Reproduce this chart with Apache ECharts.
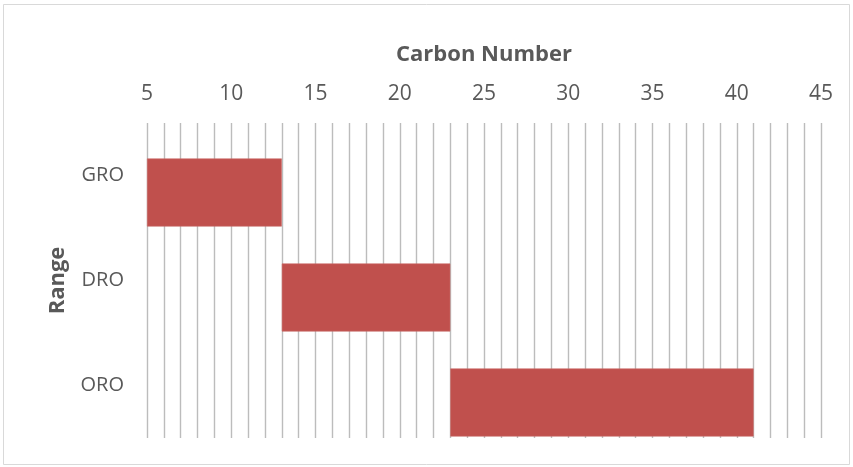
<!DOCTYPE html>
<html>
<head>
<meta charset="utf-8">
<script src="https://cdn.jsdelivr.net/npm/echarts@6/dist/echarts.min.js"></script>
<style>
  html, body { margin: 0; padding: 0; background: #fff; }
  #chart { width: 853px; height: 467px; }
</style>
</head>
<body>
<div id="chart"></div>
<script>
// Carbon-number ranges for each fraction
const ranges = ['GRO', 'DRO', 'ORO'];
const rangeStart = [5, 13, 23];
const rangeEnd = [13, 23, 41];

// Tick settings for the carbon-number axis
const axisMin = 5;
const axisMax = 45;
const axisStep = 5;

const spans = rangeEnd.map((e, i) => e - rangeStart[i]);

const textColor = '#595959';
const gridColor = '#bcbcbc';
const font = '"Open Sans", "Liberation Sans", sans-serif';

const chart = echarts.init(document.getElementById('chart'), null, { renderer: 'canvas' });

chart.setOption({
  animation: false,
  backgroundColor: '#ffffff',
  graphic: [{
    type: 'rect',
    shape: { x: 3.5, y: 4.5, width: 846, height: 460 },
    style: { fill: 'none', stroke: '#d9d9d9', lineWidth: 1 },
    silent: true
  }],
  grid: { left: 147, right: 32, top: 123, bottom: 29 },
  xAxis: {
    type: 'value',
    position: 'top',
    min: axisMin,
    max: axisMax,
    interval: axisStep,
    name: 'Carbon Number',
    nameLocation: 'middle',
    nameGap: 57,
    nameTextStyle: { color: textColor, fontSize: 22, fontWeight: 'bold', fontFamily: font },
    axisLine: { show: false },
    axisTick: { show: false },
    minorTick: { show: false, splitNumber: 5 },
    axisLabel: { color: textColor, fontSize: 21, fontFamily: font, margin: 18 },
    splitLine: { show: true, lineStyle: { color: gridColor, width: 1.4 } },
    minorSplitLine: { show: true, lineStyle: { color: gridColor, width: 1.4 } }
  },
  yAxis: {
    type: 'category',
    inverse: true,
    data: ranges,
    name: 'Range',
    nameLocation: 'middle',
    nameRotate: 90,
    nameGap: 78,
    nameTextStyle: { color: textColor, fontSize: 22, fontWeight: 'bold', fontFamily: font },
    axisLine: { show: false },
    axisTick: { show: false },
    axisLabel: { color: textColor, fontSize: 20, fontFamily: font, margin: 23 },
    splitLine: { show: false }
  },
  series: [
    {
      // empty slot in the cluster, so the range bars sit low in each band
      type: 'bar',
      stack: 'slot',
      data: ranges.map(() => 0),
      barWidth: 68,
      barGap: '-50%',
      itemStyle: { color: 'transparent' },
      silent: true
    },
    {
      type: 'bar',
      stack: 'range',
      data: rangeStart,
      barWidth: 68,
      barGap: '-50%',
      itemStyle: { color: 'transparent' },
      silent: true
    },
    {
      type: 'bar',
      stack: 'range',
      data: spans,
      barWidth: 68,
      barGap: '-50%',
      itemStyle: { color: '#c0504d', borderColor: '#c96a67', borderWidth: 0.6 }
    }
  ]
});
</script>
</body>
</html>
